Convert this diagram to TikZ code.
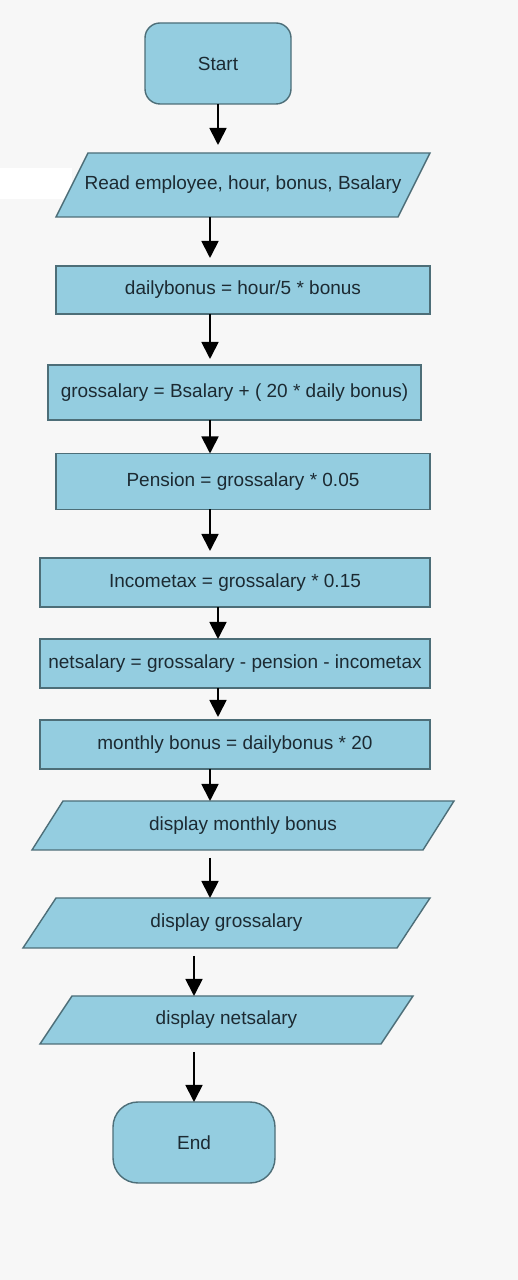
\documentclass[tikz,border=0pt]{standalone}
\usepackage{fontspec}
\setmainfont{Liberation Sans}
\usetikzlibrary{arrows.meta,backgrounds}
\definecolor{boxblue}{RGB}{148,205,224}
\definecolor{boxline}{RGB}{77,110,120}
\definecolor{boxtext}{RGB}{28,42,50}
\definecolor{paper}{RGB}{247,247,247}
\tikzset{
  base/.style={text=boxtext, inner sep=0pt, outer sep=0pt, font=\fontsize{19}{22}\selectfont},
  boxfill/.style={draw=boxline, fill=boxblue, line width=1.4pt},
  proc/.style={base, boxfill, rectangle},
  term/.style={base, boxfill, rectangle, rounded corners=#1},
  iotext/.style={base, rectangle},
  arr/.style={-{Triangle[width=17pt,length=17pt]}, line width=1.8pt},
}
\begin{document}
\begin{tikzpicture}[x=1pt,y=1pt]
%\draw[step=20pt,gray,very thin] (0,0) grid (518,1280); %background grid

\coordinate (colA) at (218,0);
\coordinate (colB) at (210,0);
\coordinate (colC) at (194,0);

\node[term=15pt, minimum width=146pt, minimum height=81pt] (start) at (218,1216.5) {Start};
\node[iotext, minimum width=342pt, minimum height=64pt] (read) at (243,1095) {Read employee, hour, bonus, Bsalary};
\node[proc, minimum width=374pt, minimum height=48pt] (daily) at (243,990) {dailybonus = hour/5 * bonus};
\node[proc, minimum width=373pt, minimum height=55pt] (gross) at (234.5,887.5) {grossalary = Bsalary + ( 20 * daily bonus)};
\node[proc, minimum width=374pt, minimum height=56pt] (pension) at (243,798.5) {Pension = grossalary * 0.05};
\node[proc, minimum width=390pt, minimum height=49pt] (income) at (235,697.5) {Incometax = grossalary * 0.15};
\node[proc, minimum width=390pt, minimum height=49pt] (net) at (235,616.5) {netsalary = grossalary - pension - incometax};
\node[proc, minimum width=390pt, minimum height=49pt] (monthly) at (235,535.5) {monthly bonus = dailybonus * 20};
\node[iotext, minimum width=391pt, minimum height=49pt] (dmonth) at (243,454.5) {display monthly bonus};
\node[iotext, minimum width=374pt, minimum height=50pt] (dgross) at (226.5,357) {display grossalary};
\node[iotext, minimum width=341pt, minimum height=48pt] (dnet) at (226.5,260) {display netsalary};
\node[term=25pt, minimum width=162pt, minimum height=81pt] (end) at (194,137.5) {End};

% slanted input/output boxes behind their text
\begin{scope}[on background layer]
\fill[paper] (0,0) rectangle (518,1280);
\fill[white] (0,1081) rectangle (72,1112);
\foreach \n/\s in {read/16,dmonth/15.5,dgross/16.5,dnet/16}
  \draw[boxfill] ([xshift=-\s pt]\n.south west) -- ([xshift=\s pt]\n.north west)
    -- ([xshift=\s pt]\n.north east) -- ([xshift=-\s pt]\n.south east) -- cycle;
\end{scope}

\draw[arr, shorten >=8pt] (start.south -| colA) -- (read.north -| colA);
\draw[arr, shorten >=8pt] (read.south -| colB) -- (daily.north -| colB);
\draw[arr, shorten >=6pt] (daily.south -| colB) -- (gross.north -| colB);
\draw[arr] (gross.south -| colB) -- (pension.north -| colB);
\draw[arr, shorten >=7pt] (pension.south -| colB) -- (income.north -| colB);
\draw[arr] (income.south -| colA) -- (net.north -| colA);
\draw[arr, shorten >=3pt] (net.south -| colA) -- (monthly.north -| colA);
\draw[arr] (monthly.south -| colB) -- (dmonth.north -| colB);
\draw[arr, shorten <=8pt] (dmonth.south -| colB) -- (dgross.north -| colB);
\draw[arr, shorten <=8pt] (dgross.south -| colC) -- (dnet.north -| colC);
\draw[arr, shorten <=8pt] (dnet.south -| colC) -- (end.north -| colC);
\end{tikzpicture}
\end{document}
